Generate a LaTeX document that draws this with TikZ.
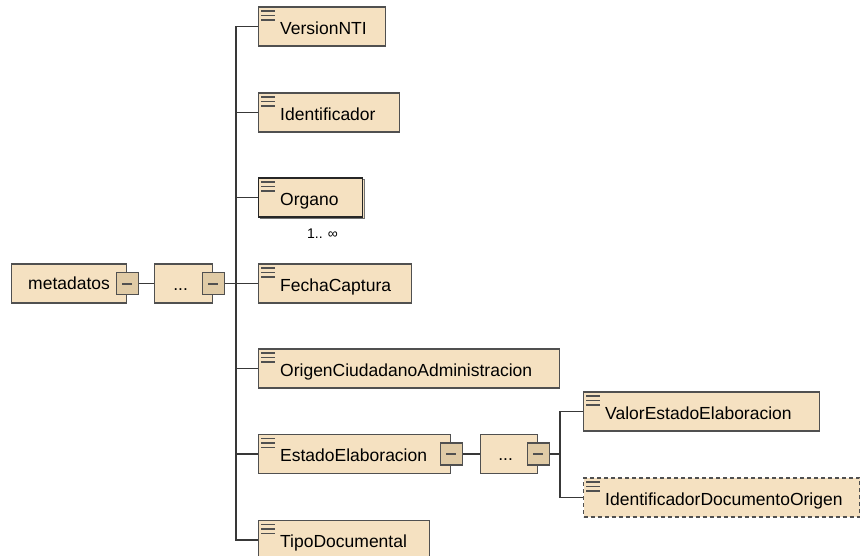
\documentclass[tikz,border=0pt]{standalone}
\usepackage{fontspec}
\setmainfont{Liberation Sans}
\definecolor{boxfill}{HTML}{F5E1C1}
\definecolor{minusfill}{HTML}{E0CBA6}
\definecolor{edge}{HTML}{505050}
\definecolor{wire}{HTML}{383838}
\begin{document}
\begin{tikzpicture}[x=1pt,y=-1pt,
  conn/.style={draw=wire, line width=1.2pt},
  plainbox/.style={draw=edge, fill=boxfill, line width=1.2pt, minimum height=39pt,
    inner sep=0pt, anchor=west},
  elem/.style={plainbox,
    path picture={\foreach \d in {4,8.5,13}{
      \draw[edge, solid, line width=1.1pt] ([xshift=2.5pt, yshift=-\d pt]path picture bounding box.north west) -- ++(13.5,0);}}},
  optional/.style={dash pattern=on 4pt off 3pt},
  multi/.style={draw=black!85},
  minus/.style={draw=edge, fill=minusfill, line width=1.2pt, minimum width=22pt,
    minimum height=22pt, inner sep=0pt,
    path picture={\draw[line width=2pt] ([xshift=-5pt]path picture bounding box.center) -- ([xshift=5pt]path picture bounding box.center);}},
  lbl/.style={font=\fontsize{17.5}{20}\selectfont, inner sep=0pt},
  occ/.style={font=\fontsize{14}{16}\selectfont, inner sep=0pt}
]
\fill[white] (0,0) rectangle (860,555);
\useasboundingbox (0,0) rectangle (860,555);

% root element and its sequence
\node[plainbox, minimum width=115pt, lbl] (meta) at (11,283.5) {metadatos};
\node[minus] (meta-m) at (meta.east) {};
\node[plainbox, minimum width=58pt] (seq1) at (154,283.5) {};
\node[lbl, anchor=base] (seq1-t) at ([xshift=-3pt, yshift=-6.5pt]seq1.center) {...};
\node[minus] (seq1-m) at (seq1.east) {};

% child elements: name / x / centre y / width / text
\newcommand\childelem[6][]{%
  \node[elem, #1, minimum width=#5pt] (#2) at (#3,#4) {};
  \node[lbl, anchor=base west] (#2-t) at ([xshift=22pt, yshift=-7.5pt]#2.west) {#6};}

\childelem{vnti}{258}{26.5}{127}{VersionNTI}
\childelem{ident}{258}{112.5}{141}{Identificador}
% repeated element: a second frame just behind the first
\node[plainbox, draw=edge!80, minimum width=104pt] (organo-s) at (259.5,199) {};
\childelem[multi]{organo}{258}{197.5}{104}{Organo}
\node[occ, anchor=base west] (organo-occ) at (307,238) {1.. ∞};
\childelem{fecha}{258}{283.5}{153}{FechaCaptura}
\childelem{origen}{258}{368.5}{301}{OrigenCiudadanoAdministracion}
\childelem{estado}{258}{454}{192}{EstadoElaboracion}
\childelem{tipo}{258}{540}{171}{TipoDocumental}

% EstadoElaboracion sequence
\node[minus] (estado-m) at (estado.east) {};
\node[plainbox, minimum width=57pt] (seq2) at (480,454) {};
\node[lbl, anchor=base] (seq2-t) at ([xshift=-3.5pt, yshift=-6.5pt]seq2.center) {...};
\node[minus] (seq2-m) at (seq2.east) {};
\childelem{valor}{583}{411.5}{236}{ValorEstadoElaboracion}
\childelem[optional]{idorig}{583}{497.5}{276}{IdentificadorDocumentoOrigen}

% connectors
\coordinate (trunk) at (236,283.5);
\coordinate (branch) at (560,454);
\draw[conn] (meta-m.east) -- (seq1.west);
\draw[conn] (seq1-m.east) -- (trunk);
\draw[conn] (vnti.west) -| (trunk) |- (tipo.west);
\foreach \n in {ident,organo,fecha,origen,estado}
  \draw[conn] (trunk |- \n.west) -- (\n.west);
\draw[conn] (estado-m.east) -- (seq2.west);
\draw[conn] (seq2-m.east) -- (branch);
\draw[conn] (valor.west) -| (branch) |- (idorig.west);
\end{tikzpicture}
\end{document}
